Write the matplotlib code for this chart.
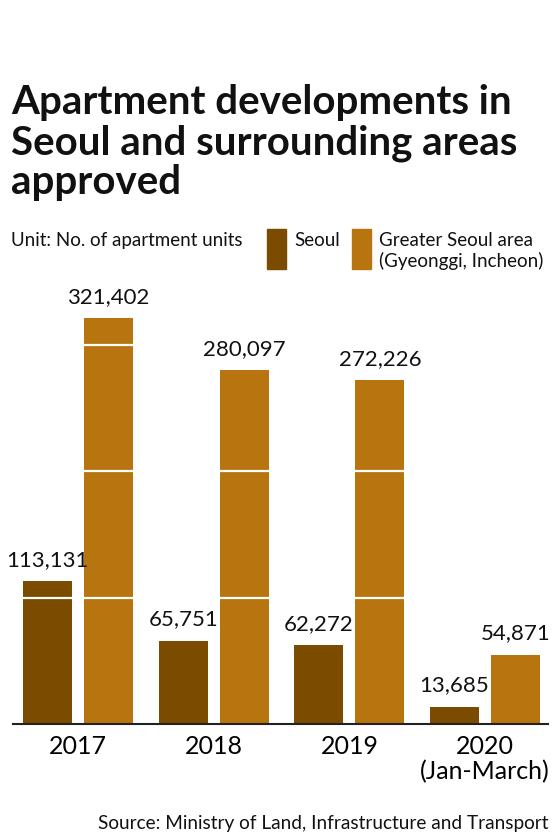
import matplotlib
matplotlib.use("Agg")
import matplotlib.pyplot as plt
from matplotlib.patches import Rectangle

years = ["2017", "2018", "2019", "2020\n(Jan-March)"]
seoul = [113131, 65751, 62272, 13685]
greater = [321402, 280097, 272226, 54871]
gridlines = [100000, 200000, 300000]

c_seoul = "#7b4b00"
c_greater = "#b8740f"
font = "Lato"

W, H = 560, 836
fig = plt.figure(figsize=(W / 100, H / 100), dpi=100)

def fx(px):
    return px / W

def fy(py):
    return 1 - py / H

base_px, top_px = 724, 290
ax = fig.add_axes([fx(13), fy(base_px), fx(548) - fx(13), (base_px - top_px) / H])
ymax = (base_px - top_px) / ((724 - 318) / 321402)
ax.set_ylim(0, ymax)
ax.set_xlim(-0.479, -0.479 + 535 / 135.7)

bw = 0.361
off = 0.225
xs = list(range(len(years)))
ax.bar([x - off for x in xs], seoul, width=bw, color=c_seoul, zorder=2)
ax.bar([x + off for x in xs], greater, width=bw, color=c_greater, zorder=2)
for g in gridlines:
    ax.axhline(g, color="white", lw=1.6, zorder=3)

for x, v in zip(xs, seoul):
    ax.text(x - off, v + 9000, f"{v:,}", ha="center", va="bottom", fontsize=16,
            family=font, color="#111111")
for x, v in zip(xs, greater):
    ax.text(x + off, v + 9000, f"{v:,}", ha="center", va="bottom", fontsize=16,
            family=font, color="#111111")

for s in ["top", "right", "left"]:
    ax.spines[s].set_visible(False)
ax.spines["bottom"].set_color("#222222")
ax.spines["bottom"].set_linewidth(1.5)
ax.set_yticks([])
ax.set_xticks(xs)
ax.set_xticklabels(years, fontsize=18, family=font, linespacing=1.08)
ax.tick_params(axis="x", length=0, pad=8)

# Title
title_lines = ["Apartment developments in", "Seoul and surrounding areas", "approved"]
for i, line in enumerate(title_lines):
    fig.text(fx(11), fy(114 + 40 * i), line, ha="left", va="baseline", fontsize=29,
             fontweight="bold", family=font, color="#111111")

# Unit and legend
txt = dict(fontsize=13.5, family=font, color="#111111", va="baseline", ha="left")
fig.text(fx(11), fy(246), "Unit: No. of apartment units", **txt)
fig.patches.append(Rectangle((fx(267), fy(269)), fx(19), (269 - 229) / H,
                             transform=fig.transFigure, color=c_seoul))
fig.text(fx(294), fy(246), "Seoul", **txt)
fig.patches.append(Rectangle((fx(352), fy(269)), fx(19), (269 - 229) / H,
                             transform=fig.transFigure, color=c_greater))
fig.text(fx(379), fy(246), "Greater Seoul area", **txt)
fig.text(fx(379), fy(267), "(Gyeonggi, Incheon)", **txt)

fig.text(fx(548), fy(829), "Source: Ministry of Land, Infrastructure and Transport",
         ha="right", va="baseline", fontsize=13.7, family=font, color="#111111")

fig.savefig("out.png", dpi=100)
